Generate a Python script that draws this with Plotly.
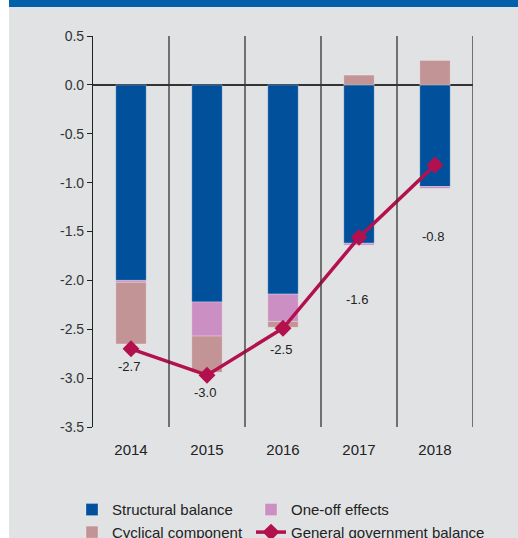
import plotly.graph_objects as go

# Budget balance decomposition, % of GDP
years = ["2014", "2015", "2016", "2017", "2018"]
structural = [-2.00, -2.22, -2.14, -1.62, -1.04]
one_off = [-0.02, -0.35, -0.28, -0.02, -0.02]
cyclical = [-0.63, -0.37, -0.06, 0.10, 0.25]
general_balance = [-2.70, -2.97, -2.49, -1.56, -0.82]

y_ticks = [0.5, 0.0, -0.5, -1.0, -1.5, -2.0, -2.5, -3.0, -3.5]
y_tick_labels = ["0.5", "0.0", "-0.5", "-1.0", "-1.5", "-2.0", "-2.5", "-3.0", "-3.5"]

# vertical offsets (px) of the value labels under the line markers
label_shift = [-18, -17, -21, -62, -71]

BLUE = "#00509b"
ONE_OFF = "#cc8fc3"
CYCL = "#c39495"
LINE = "#b3104e"
BG = "#e1e2e4"
NARROW = "Liberation Sans Narrow, Arial Narrow, sans-serif"

x = list(range(len(years)))
fig = go.Figure()

bar_style = dict(width=0.4, marker_line=dict(width=0.8, color="rgba(255,255,255,0.35)"))
fig.add_trace(go.Bar(x=x, y=structural, name="Structural balance",
                     marker_color=BLUE, legend="legend", **bar_style))
fig.add_trace(go.Bar(x=x, y=one_off, name="One-off effects",
                     marker_color=ONE_OFF, legend="legend2", **bar_style))
fig.add_trace(go.Bar(x=x, y=cyclical, name="Cyclical component",
                     marker_color=CYCL, legend="legend", **bar_style))
fig.add_trace(go.Scatter(x=x, y=general_balance, name="General government balance",
                         mode="lines+markers", legend="legend2",
                         line=dict(color=LINE, width=3.5),
                         marker=dict(symbol="diamond", size=13, color=LINE)))

# value labels for the general government balance
for xi, v, dy in zip(x, general_balance, label_shift):
    fig.add_annotation(x=xi, y=v, text=f"{v:.1f}", showarrow=False,
                       yshift=dy, xshift=-2,
                       font=dict(family=NARROW, size=13, color="#222"))

shapes = []
# separators between the years
for b in range(len(years)):
    shapes.append(dict(type="line", xref="x", yref="paper", x0=b + 0.5, x1=b + 0.5,
                       y0=0, y1=1, line=dict(color="#333", width=1.3), layer="above"))

# page backdrop: white strip at the left edge and blue header band
shapes.append(dict(type="rect", xref="paper", yref="paper",
                   x0=-0.26, x1=-0.221, y0=-0.3, y1=1.2,
                   fillcolor="white", line_width=0, layer="below"))
shapes.append(dict(type="rect", xref="paper", yref="paper",
                   x0=-0.221, x1=1.2, y0=1.074, y1=1.2,
                   fillcolor="#0061aa", line_width=0, layer="below"))

legend_common = dict(orientation="v", yref="container", y=0.083, yanchor="top",
                     xanchor="left", bgcolor="rgba(0,0,0,0)", itemwidth=30,
                     tracegroupgap=0, traceorder="normal",
                     font=dict(family=NARROW, size=15, color="#222"))

fig.update_layout(
    width=518, height=538,
    margin=dict(l=93, r=45, t=36, b=111, autoexpand=False),
    paper_bgcolor=BG, plot_bgcolor=BG,
    barmode="relative", bargap=0.6,
    showlegend=True,
    shapes=shapes,
    xaxis=dict(range=[-0.5, 4.5], tickmode="array", tickvals=x, ticktext=years,
               showgrid=False, zeroline=False, showline=False, ticks="",
               ticklabelstandoff=12,
               tickfont=dict(family=NARROW, size=15, color="#222")),
    yaxis=dict(range=[-3.5, 0.5], tickmode="array", tickvals=y_ticks,
               ticktext=y_tick_labels,
               showgrid=False, showline=True, linecolor="#222", linewidth=1.2,
               ticks="outside", ticklen=5, tickcolor="#222", tickwidth=1.2,
               zeroline=True, zerolinecolor="#333", zerolinewidth=1.5,
               tickfont=dict(family="Liberation Sans, Arial, sans-serif",
                             size=14, color="#333")),
    legend=dict(x=(72 - 93) / 380, **legend_common),
    legend2=dict(x=(251 - 93) / 380, **legend_common),
)

fig.write_html("out.html")
